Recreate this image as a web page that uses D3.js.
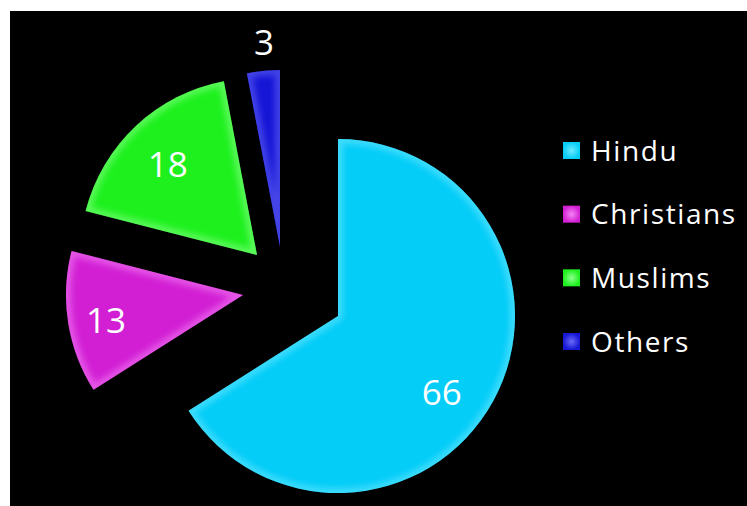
<!DOCTYPE html>
<html>
<head>
<meta charset="utf-8">
<script src="https://cdn.jsdelivr.net/npm/d3@7"></script>
<style>
  html, body { margin: 0; padding: 0; background: #ffffff; }
  svg { display: block; }
</style>
</head>
<body>
<svg id="chart" width="747" height="506"></svg>
<script>
// Religious composition (percent)
const categories = ["Hindu", "Christians", "Muslims", "Others"];
const values = [66, 13, 18, 3];

// Slice styling
const baseColors = ["#04cdf8", "#d21fd4", "#1ef01e", "#1616d6"];
const edgeColors = ["#6ee8ff", "#f584f5", "#8dff8d", "#6a6af6"];

// Layout: pull-out of each slice and label placement along it
const explodeShift = [[0, 0], [-95, -21], [-81, -61], [-58, -69]];
const labelRadiusFrac = [0.73, 0.787, 0.72, 1.16];
const labelTurnDeg = [7.7, -1.4, -1.2, 0.9];

const W = 747, H = 506;
const cx = 338, cy = 316, R = 177;

const svg = d3.select("#chart");
const defs = svg.append("defs");

// soft blur for bevel highlights
defs.append("filter").attr("id", "soften")
  .attr("x", "-20%").attr("y", "-20%").attr("width", "140%").attr("height", "140%")
  .append("feGaussianBlur").attr("stdDeviation", 3);

// black panel
svg.append("rect").attr("x", 10).attr("y", 11).attr("width", W - 10).attr("height", H - 11).attr("fill", "#000");

const pie = d3.pie().sort(null).value(d => d);
const arcs = pie(values);
const arc = d3.arc().innerRadius(0).outerRadius(R);

const pieG = svg.append("g").attr("transform", `translate(${cx},${cy})`);

const slices = pieG.selectAll("g.slice").data(arcs).join("g")
  .attr("class", "slice")
  .attr("transform", (d, i) => `translate(${explodeShift[i][0]},${explodeShift[i][1]})`);

slices.each(function (d, i) {
  const g = d3.select(this);
  const id = "clip-slice-" + i;
  defs.append("clipPath").attr("id", id).append("path").attr("d", arc(d));
  g.append("path").attr("d", arc(d)).attr("fill", baseColors[i]);
  // lighter bevelled rim along every edge of the slice
  g.append("g").attr("clip-path", `url(#${id})`)
    .append("path").attr("d", arc(d))
    .attr("fill", "none")
    .attr("stroke", edgeColors[i])
    .attr("stroke-width", 10)
    .attr("stroke-linejoin", "round")
    .attr("filter", "url(#soften)")
    .attr("opacity", 0.55);
});

// value labels
slices.append("text")
  .attr("transform", (d, i) => {
    const a = (d.startAngle + d.endAngle) / 2 + labelTurnDeg[i] * Math.PI / 180;
    const r = labelRadiusFrac[i] * R;
    const p = d3.arc().innerRadius(r).outerRadius(r).startAngle(a).endAngle(a).centroid();
    return `translate(${p[0]},${p[1]})`;
  })
  .attr("text-anchor", "middle")
  .attr("dy", "0.36em")
  .attr("fill", "#ffffff")
  .style("font-family", "'Open Sans', sans-serif")
  .style("font-size", "35px")
  .text(d => d.data);

// legend
const legendY = d3.scalePoint().domain(categories).range([150.5, 341.5]);
const legend = svg.append("g");
const rows = legend.selectAll("g").data(categories).join("g")
  .attr("transform", d => `translate(563,${legendY(d)})`);

categories.forEach((c, i) => {
  const grad = defs.append("radialGradient").attr("id", "lg-" + i);
  grad.append("stop").attr("offset", "0%").attr("stop-color", edgeColors[i]);
  grad.append("stop").attr("offset", "100%").attr("stop-color", baseColors[i]);
});

rows.append("rect")
  .attr("x", 0).attr("y", -8.5).attr("width", 17).attr("height", 17)
  .attr("fill", (d, i) => `url(#lg-${i})`);

rows.append("text")
  .attr("x", 28)
  .attr("y", 10)
  .attr("fill", "#ffffff")
  .style("font-family", "'Open Sans', sans-serif")
  .style("font-size", "28px")
  .style("letter-spacing", "1.6px")
  .text(d => d);
</script>
</body>
</html>
